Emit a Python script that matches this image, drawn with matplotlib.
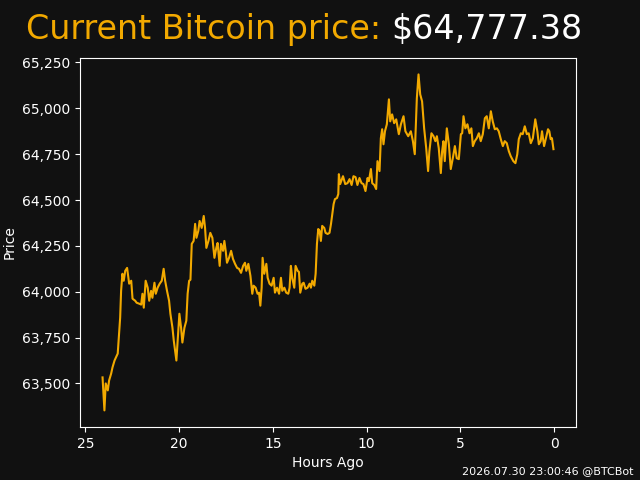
import matplotlib
matplotlib.use("Agg")
import matplotlib.pyplot as plt
from matplotlib.ticker import StrMethodFormatter

bg = "#111111"
btc_orange = "#F2A900"

current_price = "64,777.38"
stamp = "2026.07.30 23:00:46 @BTCBot"

# hours ago / price
hours = [24.09, 23.99, 23.92, 23.81, 23.74, 23.63, 23.56, 23.45, 23.38, 23.28,
         23.20, 23.15, 23.10, 23.03, 22.96, 22.88, 22.78, 22.67, 22.56, 22.49,
         22.35, 22.27, 22.14, 22.03, 21.96, 21.89, 21.79, 21.68, 21.60, 21.50,
         21.43, 21.32, 21.25, 21.15, 21.04, 20.93, 20.83, 20.75, 20.65, 20.54,
         20.47, 20.36, 20.29, 20.15, 20.08, 19.99, 19.90, 19.83, 19.72, 19.62,
         19.55, 19.47, 19.40, 19.33, 19.23, 19.15, 19.08, 18.98, 18.91, 18.80,
         18.69, 18.62, 18.55, 18.44, 18.34, 18.23, 18.12, 18.02, 17.95, 17.84,
         17.77, 17.66, 17.59, 17.52, 17.45, 17.34, 17.23, 17.13, 17.02, 16.91,
         16.81, 16.70, 16.59, 16.49, 16.42, 16.31, 16.20, 16.10, 16.03, 15.92,
         15.82, 15.74, 15.67, 15.60, 15.55, 15.46, 15.35, 15.28, 15.18, 15.07,
         14.96, 14.89, 14.78, 14.67, 14.57, 14.50, 14.39, 14.29, 14.18, 14.11,
         14.04, 13.97, 13.86, 13.79, 13.68, 13.61, 13.54, 13.43, 13.36, 13.26,
         13.15, 13.04, 12.97, 12.90, 12.79, 12.72, 12.65, 12.58, 12.51, 12.44,
         12.37, 12.26, 12.19, 12.08, 11.98, 11.90, 11.83, 11.76, 11.69, 11.58,
         11.51, 11.48, 11.41, 11.26, 11.14, 11.02, 10.91, 10.80, 10.70, 10.59,
         10.49, 10.38, 10.27, 10.17, 10.06, 9.95, 9.88, 9.77, 9.70, 9.59,
         9.49, 9.42, 9.31, 9.24, 9.17, 9.10, 9.02, 8.92, 8.81, 8.74,
         8.64, 8.53, 8.42, 8.28, 8.17, 8.03, 7.93, 7.78, 7.64, 7.53,
         7.43, 7.32, 7.23, 7.14, 7.04, 6.93, 6.82, 6.72, 6.65, 6.54,
         6.43, 6.33, 6.25, 6.15, 6.04, 5.97, 5.90, 5.83, 5.72, 5.61,
         5.51, 5.40, 5.29, 5.19, 5.08, 4.97, 4.90, 4.83, 4.73, 4.62,
         4.51, 4.41, 4.33, 4.23, 4.12, 4.01, 3.91, 3.80, 3.69, 3.59,
         3.48, 3.37, 3.27, 3.16, 3.05, 2.95, 2.84, 2.73, 2.63, 2.52,
         2.41, 2.31, 2.17, 2.06, 1.96, 1.88, 1.77, 1.67, 1.56, 1.45,
         1.35, 1.24, 1.13, 1.00, 0.89, 0.81, 0.71, 0.64, 0.53, 0.43,
         0.32, 0.25, 0.18, 0.11, 0.03]

prices = [63533, 63353, 63500, 63462, 63516, 63554, 63587, 63625, 63641, 63663,
          63788, 63859, 64005, 64098, 64060, 64114, 64130, 64044, 64060, 63962,
          63951, 63940, 63935, 63930, 63989, 63913, 64060, 64022, 63951, 64005,
          63967, 64049, 63989, 64022, 64044, 64060, 64125, 64060, 64005, 63951,
          63880, 63804, 63734, 63625, 63734, 63880, 63804, 63723, 63804, 63842,
          63989, 64060, 64065, 64261, 64277, 64370, 64294, 64332, 64386, 64348,
          64413, 64348, 64239, 64277, 64321, 64294, 64185, 64239, 64266, 64141,
          64261, 64223, 64277, 64223, 64158, 64185, 64223, 64179, 64152, 64130,
          64125, 64103, 64141, 64158, 64114, 64152, 64087, 63989, 64033, 64022,
          63989, 63995, 63924, 64022, 64185, 64098, 64152, 64076, 64044, 64033,
          64076, 63995, 64022, 63989, 64076, 64005, 64022, 63995, 63989, 64022,
          64141, 64076, 64022, 64141, 64114, 64108, 63995, 64044, 64049, 64016,
          64022, 64044, 64022, 64060, 64033, 64098, 64261, 64342, 64332, 64277,
          64359, 64348, 64321, 64315, 64321, 64370, 64424, 64478, 64505, 64511,
          64533, 64641, 64587, 64630, 64587, 64592, 64614, 64582, 64630, 64625,
          64582, 64620, 64592, 64587, 64549, 64620, 64603, 64669, 64592, 64582,
          64560, 64712, 64658, 64837, 64886, 64804, 64875, 64913, 65049, 64929,
          64967, 64919, 64940, 64859, 64913, 64957, 64875, 64848, 64875, 64821,
          64750, 65054, 65185, 65076, 65038, 64891, 64783, 64658, 64766, 64864,
          64848, 64821, 64848, 64783, 64647, 64766, 64821, 64712, 64891, 64804,
          64669, 64728, 64794, 64728, 64723, 64859, 64864, 64957, 64891, 64913,
          64864, 64891, 64794, 64821, 64837, 64864, 64821, 64859, 64946, 64957,
          64891, 64984, 64929, 64886, 64891, 64875, 64832, 64794, 64821, 64810,
          64766, 64739, 64712, 64701, 64750, 64832, 64864, 64859, 64902, 64859,
          64864, 64810, 64837, 64940, 64875, 64804, 64821, 64875, 64794, 64837,
          64886, 64875, 64832, 64837, 64777.38]

fig, ax = plt.subplots(figsize=(6.4, 4.8), dpi=100)
fig.patch.set_facecolor(bg)
ax.set_facecolor(bg)

ax.plot(hours, prices, color=btc_orange, linewidth=1.5)
ax.invert_xaxis()

ax.yaxis.set_major_formatter(StrMethodFormatter("{x:,.0f}"))
ax.set_xlabel("Hours Ago", color="white")
ax.set_ylabel("Price", color="white")
ax.tick_params(colors="white")
for s in ax.spines.values():
    s.set_color("white")

t1 = fig.text(26 / 640, 1 - 39 / 480, "Current Bitcoin price: ",
              color=btc_orange, fontsize=24, va="baseline")
ax.annotate("\\$" + current_price, xy=(1, 0), xycoords=t1, va="bottom",
            ha="left", color="white", fontsize=24, annotation_clip=False)

fig.text(634 / 640, 4 / 480, stamp, color="white", fontsize=8,
         ha="right", va="bottom")

fig.savefig("out.png", facecolor=fig.get_facecolor())
